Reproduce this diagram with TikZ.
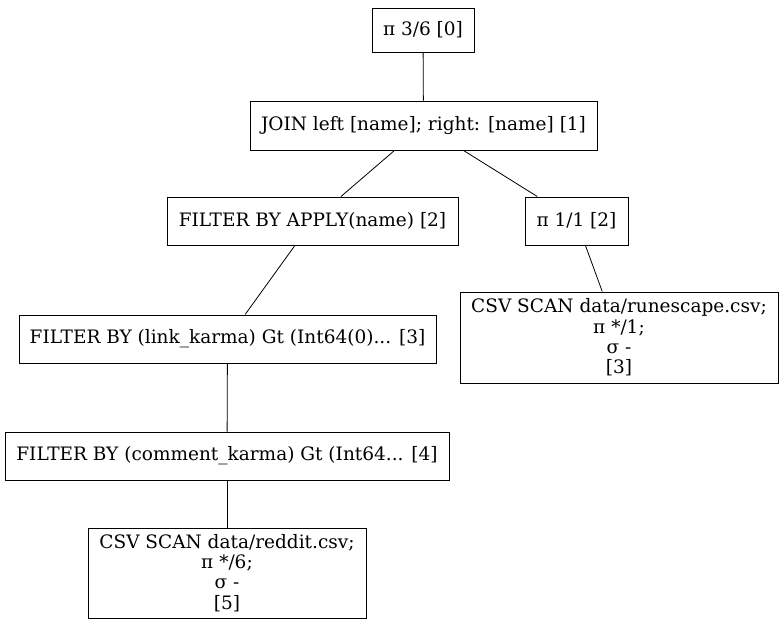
\documentclass[tikz,border=0pt]{standalone}
\usepackage{fontspec}
\setmainfont{DejaVu Serif}
\begin{document}
\begin{tikzpicture}[x=1pt,y=-1pt,
  box/.style={draw,line width=1pt,inner sep=0pt,align=center,font=\fontsize{18.5}{20.3}\selectfont},
  edge/.style={line width=0.8pt}]
\useasboundingbox (0,0) rectangle (784,624);
\node[box,minimum width=102,minimum height=44] (n0) at (423,30) {π 3/6 [0]};
\node[box,minimum width=347,minimum height=49] (n1) at (423.5,125.5) {JOIN left [name]; right: [name] [1]};
\node[box,minimum width=291,minimum height=48] (n2) at (312.5,221) {FILTER BY APPLY(name) [2]};
\node[box,minimum width=103,minimum height=48] (n3) at (576.5,221) {π 1/1 [2]};
\node[box,minimum width=417,minimum height=48] (n4) at (227.5,339) {FILTER BY (link\_karma) Gt (Int64(0)... [3]};
\node[box,minimum width=318,minimum height=91] (n5) at (619,337.5) {CSV SCAN data/runescape.csv;\\π */1;\\σ -\\{[3]}};
\node[box,minimum width=444,minimum height=48] (n6) at (227,456) {FILTER BY (comment\_karma) Gt (Int64... [4]};
\node[box,minimum width=278,minimum height=90] (n7) at (227,573) {CSV SCAN data/reddit.csv;\\π */6;\\σ -\\{[5]}};
\draw[edge] (n0) -- (n1);
\draw[edge] (n1) -- (n2);
\draw[edge] (n1) -- (n3);
\draw[edge] (n2) -- (n4);
\draw[edge] (n3) -- (n5);
\draw[edge] (n4) -- (n6);
\draw[edge] (n6) -- (n7);
\end{tikzpicture}
\end{document}
